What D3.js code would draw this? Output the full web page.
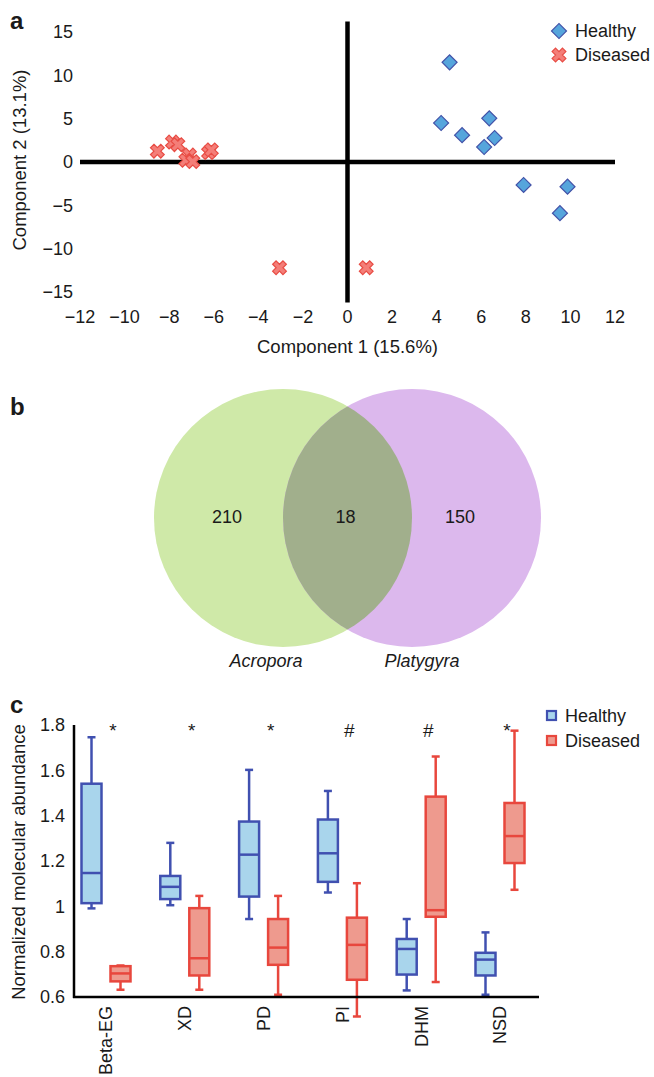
<!DOCTYPE html>
<html>
<head>
<meta charset="utf-8">
<script src="https://cdn.jsdelivr.net/npm/d3@7"></script>
<style>
  body { margin: 0; background: #fff; }
  svg text { font-family: "Liberation Sans", Arial, Helvetica, sans-serif; fill: #1a1a1a; }
</style>
</head>
<body>
<svg id="fig" width="654" height="1077"></svg>
<script>
// ---- panel a: PCA scores ----
const healthyPts = [
  [4.58, 11.5], [4.2, 4.5], [6.36, 5.04], [5.14, 3.1], [6.6, 2.77],
  [6.13, 1.73], [7.9, -2.65], [9.87, -2.85], [9.53, -5.9]
];
const diseasedPts = [
  [-8.53, 1.25], [-7.85, 2.3], [-7.61, 2.0], [-7.09, 0.8], [-7.25, 0.2],
  [-6.94, 0.04], [-6.23, 1.08], [-6.11, 1.4], [-3.05, -12.2], [0.84, -12.2]
];
const pcaXTicks = [-12, -10, -8, -6, -4, -2, 0, 2, 4, 6, 8, 10, 12];
const pcaYTicks = [15, 10, 5, 0, -5, -10, -15];

// ---- panel b: venn ----
const vennSets = ["Acropora", "Platygyra"];
const vennCounts = [210, 18, 150]; // only A, both, only P

// ---- panel c: box plots ----
const compounds = ["Beta-EG", "XD", "PD", "PI", "DHM", "NSD"];
const groups = ["Healthy", "Diseased"];
// [whiskerLow, q1, median, q3, whiskerHigh]
const healthyBox = [
  [0.991, 1.014, 1.147, 1.541, 1.746],
  [1.005, 1.032, 1.086, 1.134, 1.280],
  [0.944, 1.043, 1.228, 1.374, 1.602],
  [1.061, 1.108, 1.234, 1.383, 1.509],
  [0.629, 0.699, 0.812, 0.856, 0.944],
  [0.610, 0.695, 0.765, 0.795, 0.885]
];
const diseasedBox = [
  [0.632, 0.669, 0.704, 0.736, 0.739],
  [0.632, 0.695, 0.771, 0.992, 1.046],
  [0.610, 0.742, 0.818, 0.944, 1.046],
  [0.514, 0.676, 0.830, 0.950, 1.102],
  [0.666, 0.954, 0.983, 1.484, 1.661],
  [1.073, 1.191, 1.310, 1.456, 1.775]
];
const signif = ["*", "*", "*", "#", "#", "*"];
const boxYTicks = [0.6, 0.8, 1, 1.2, 1.4, 1.6, 1.8];

const blueFill = "#56a5dc", blueStroke = "#4252a8";
const redFill = "#f47e78", redStroke = "#e84c44";
const boxBlueFill = "#a9d5ec", boxBlueStroke = "#4050b0";
const boxRedFill = "#ee9a8e", boxRedStroke = "#e8473d";

const svg = d3.select("#fig");
const minus = s => String(s).replace("-", "\u2212");

// panel letters
svg.append("text").attr("x", 10).attr("y", 29).text("a")
  .style("font-size", "24px").style("font-weight", "bold");
svg.append("text").attr("x", 10).attr("y", 415).text("b")
  .style("font-size", "24px").style("font-weight", "bold");
svg.append("text").attr("x", 10).attr("y", 713).text("c")
  .style("font-size", "24px").style("font-weight", "bold");

// ================= panel a =================
const xA = d3.scaleLinear().domain([-12, 12]).range([80, 615]);
const yA = d3.scaleLinear().domain([-15, 15]).range([292, 32]);
const gA = svg.append("g");

gA.append("line")
  .attr("x1", xA(-12)).attr("x2", xA(12))
  .attr("y1", yA(0)).attr("y2", yA(0))
  .attr("stroke", "#000").attr("stroke-width", 4.5);
gA.append("line")
  .attr("x1", xA(0)).attr("x2", xA(0))
  .attr("y1", yA(16.2)).attr("y2", yA(-16.2))
  .attr("stroke", "#000").attr("stroke-width", 4.5);

gA.selectAll("text.xt").data(pcaXTicks).join("text")
  .attr("class", "xt")
  .attr("x", d => xA(d)).attr("y", 317).attr("dy", "0.35em")
  .attr("text-anchor", "middle").style("font-size", "18px")
  .text(d => minus(d));
gA.selectAll("text.yt").data(pcaYTicks).join("text")
  .attr("class", "yt")
  .attr("x", 73).attr("y", d => yA(d)).attr("dy", "0.35em")
  .attr("text-anchor", "end").style("font-size", "18px")
  .text(d => minus(d));

gA.append("text").attr("x", xA(0)).attr("y", 347).attr("dy", "0.35em")
  .attr("text-anchor", "middle").style("font-size", "18.5px")
  .text("Component 1 (15.6%)");
gA.append("text")
  .attr("transform", `translate(20,${yA(0) - 2}) rotate(-90)`)
  .attr("dy", "0.35em").attr("text-anchor", "middle").style("font-size", "18.5px")
  .text("Component 2 (13.1%)");

const diamond = d3.symbol().type(d3.symbolSquare).size(112);
const cross = d3.symbol().type(d3.symbolCross).size(118);

gA.selectAll("path.dis").data(diseasedPts).join("path")
  .attr("class", "dis")
  .attr("d", cross)
  .attr("transform", d => `translate(${xA(d[0])},${yA(d[1])}) rotate(45)`)
  .attr("fill", redFill).attr("stroke", redStroke).attr("stroke-width", 1.2);
gA.selectAll("path.hea").data(healthyPts).join("path")
  .attr("class", "hea")
  .attr("d", diamond)
  .attr("transform", d => `translate(${xA(d[0])},${yA(d[1])}) rotate(45)`)
  .attr("fill", blueFill).attr("stroke", blueStroke).attr("stroke-width", 1.2);

// legend a
const legA = gA.append("g");
legA.append("path").attr("d", diamond)
  .attr("transform", "translate(559,31) rotate(45)")
  .attr("fill", blueFill).attr("stroke", blueStroke).attr("stroke-width", 1.2);
legA.append("path").attr("d", cross)
  .attr("transform", "translate(559,55) rotate(45)")
  .attr("fill", redFill).attr("stroke", redStroke).attr("stroke-width", 1.2);
legA.append("text").attr("x", 575).attr("y", 31).attr("dy", "0.35em")
  .style("font-size", "18px").text(groups[0]);
legA.append("text").attr("x", 575).attr("y", 55).attr("dy", "0.35em")
  .style("font-size", "18px").text(groups[1]);

// ================= panel b =================
const gB = svg.append("g");
const vr = 129, vcy = 518;
const vx = d3.scalePoint().domain(vennSets).range([283, 412]);
const defs = svg.append("defs");
defs.append("clipPath").attr("id", "clipA")
  .append("circle").attr("cx", vx(vennSets[0])).attr("cy", vcy).attr("r", vr);

gB.append("circle").attr("cx", vx(vennSets[0])).attr("cy", vcy).attr("r", vr)
  .attr("fill", "#cfe9a8");
gB.append("circle").attr("cx", vx(vennSets[1])).attr("cy", vcy).attr("r", vr)
  .attr("fill", "#dcb8ed");
gB.append("circle").attr("cx", vx(vennSets[1])).attr("cy", vcy).attr("r", vr)
  .attr("clip-path", "url(#clipA)").attr("fill", "#a1af8c");

const mid = (vx(vennSets[0]) + vx(vennSets[1])) / 2;
const countX = [vx(vennSets[0]) - 56, mid - 2, vx(vennSets[1]) + 48];
gB.selectAll("text.cnt").data(vennCounts).join("text")
  .attr("class", "cnt")
  .attr("x", (d, i) => countX[i]).attr("y", 517).attr("dy", "0.35em")
  .attr("text-anchor", "middle").style("font-size", "18px")
  .text(d => d);
gB.selectAll("text.setl").data(vennSets).join("text")
  .attr("class", "setl")
  .attr("x", (d, i) => vx(d) + (i === 0 ? -17 : 10)).attr("y", 661).attr("dy", "0.35em")
  .attr("text-anchor", "middle").style("font-size", "18px").style("font-style", "italic")
  .text(d => d);

// ================= panel c =================
const gC = svg.append("g");
const yC = d3.scaleLinear().domain([0.6, 1.8]).range([997, 725]);
const xC = d3.scalePoint().domain(compounds).range([106, 500]);
const off = 14.5, bw = 20, cap = 8;

gC.selectAll("text.yt").data(boxYTicks).join("text")
  .attr("class", "yt")
  .attr("x", 65).attr("y", d => yC(d)).attr("dy", "0.35em")
  .attr("text-anchor", "end").style("font-size", "18px")
  .text(d => d);
gC.append("text")
  .attr("transform", `translate(19,862) rotate(-90)`)
  .attr("dy", "0.35em").attr("text-anchor", "middle").style("font-size", "18.5px")
  .text("Normalized molecular abundance");

function drawBoxes(data, dx, fill, stroke) {
  const g = gC.append("g");
  data.forEach((b, i) => {
    const cx = xC(compounds[i]) + dx;
    g.append("line").attr("x1", cx).attr("x2", cx)
      .attr("y1", yC(b[0])).attr("y2", yC(b[4]))
      .attr("stroke", stroke).attr("stroke-width", 2.5);
    [b[0], b[4]].forEach(v => {
      g.append("line").attr("x1", cx - cap / 2).attr("x2", cx + cap / 2)
        .attr("y1", yC(v)).attr("y2", yC(v))
        .attr("stroke", stroke).attr("stroke-width", 2.5);
    });
    g.append("rect").attr("x", cx - bw / 2).attr("width", bw)
      .attr("y", yC(b[3])).attr("height", yC(b[1]) - yC(b[3]))
      .attr("fill", fill).attr("stroke", stroke).attr("stroke-width", 2.5);
    g.append("line").attr("x1", cx - bw / 2).attr("x2", cx + bw / 2)
      .attr("y1", yC(b[2])).attr("y2", yC(b[2]))
      .attr("stroke", stroke).attr("stroke-width", 2.5);
  });
}
drawBoxes(healthyBox, -off, boxBlueFill, boxBlueStroke);
drawBoxes(diseasedBox, off, boxRedFill, boxRedStroke);

// axes lines
gC.append("line").attr("x1", 74).attr("x2", 74)
  .attr("y1", yC(1.8)).attr("y2", yC(0.6) + 1)
  .attr("stroke", "#000").attr("stroke-width", 2.5);
gC.append("line").attr("x1", 73).attr("x2", 539)
  .attr("y1", yC(0.6)).attr("y2", yC(0.6))
  .attr("stroke", "#000").attr("stroke-width", 2.5);

gC.selectAll("text.cat").data(compounds).join("text")
  .attr("class", "cat")
  .attr("transform", d => `translate(${xC(d)},1006) rotate(-90)`)
  .attr("dy", "0.35em").attr("text-anchor", "end").style("font-size", "18px")
  .text(d => d);

gC.selectAll("text.sig").data(signif).join("text")
  .attr("class", "sig")
  .attr("x", (d, i) => xC(compounds[i]) + 7).attr("y", yC(1.8) + 5)
  .attr("dy", "0.35em").attr("text-anchor", "middle").style("font-size", "19px")
  .text(d => d);

// legend c
const legC = gC.append("g");
[[boxBlueFill, boxBlueStroke], [boxRedFill, boxRedStroke]].forEach((c, i) => {
  legC.append("rect").attr("x", 547).attr("y", 711 + i * 25).attr("width", 9).attr("height", 9)
    .attr("fill", c[0]).attr("stroke", c[1]).attr("stroke-width", 2.2);
  legC.append("text").attr("x", 565).attr("y", 716 + i * 25).attr("dy", "0.35em")
    .style("font-size", "18px").text(groups[i]);
});
</script>
</body>
</html>
